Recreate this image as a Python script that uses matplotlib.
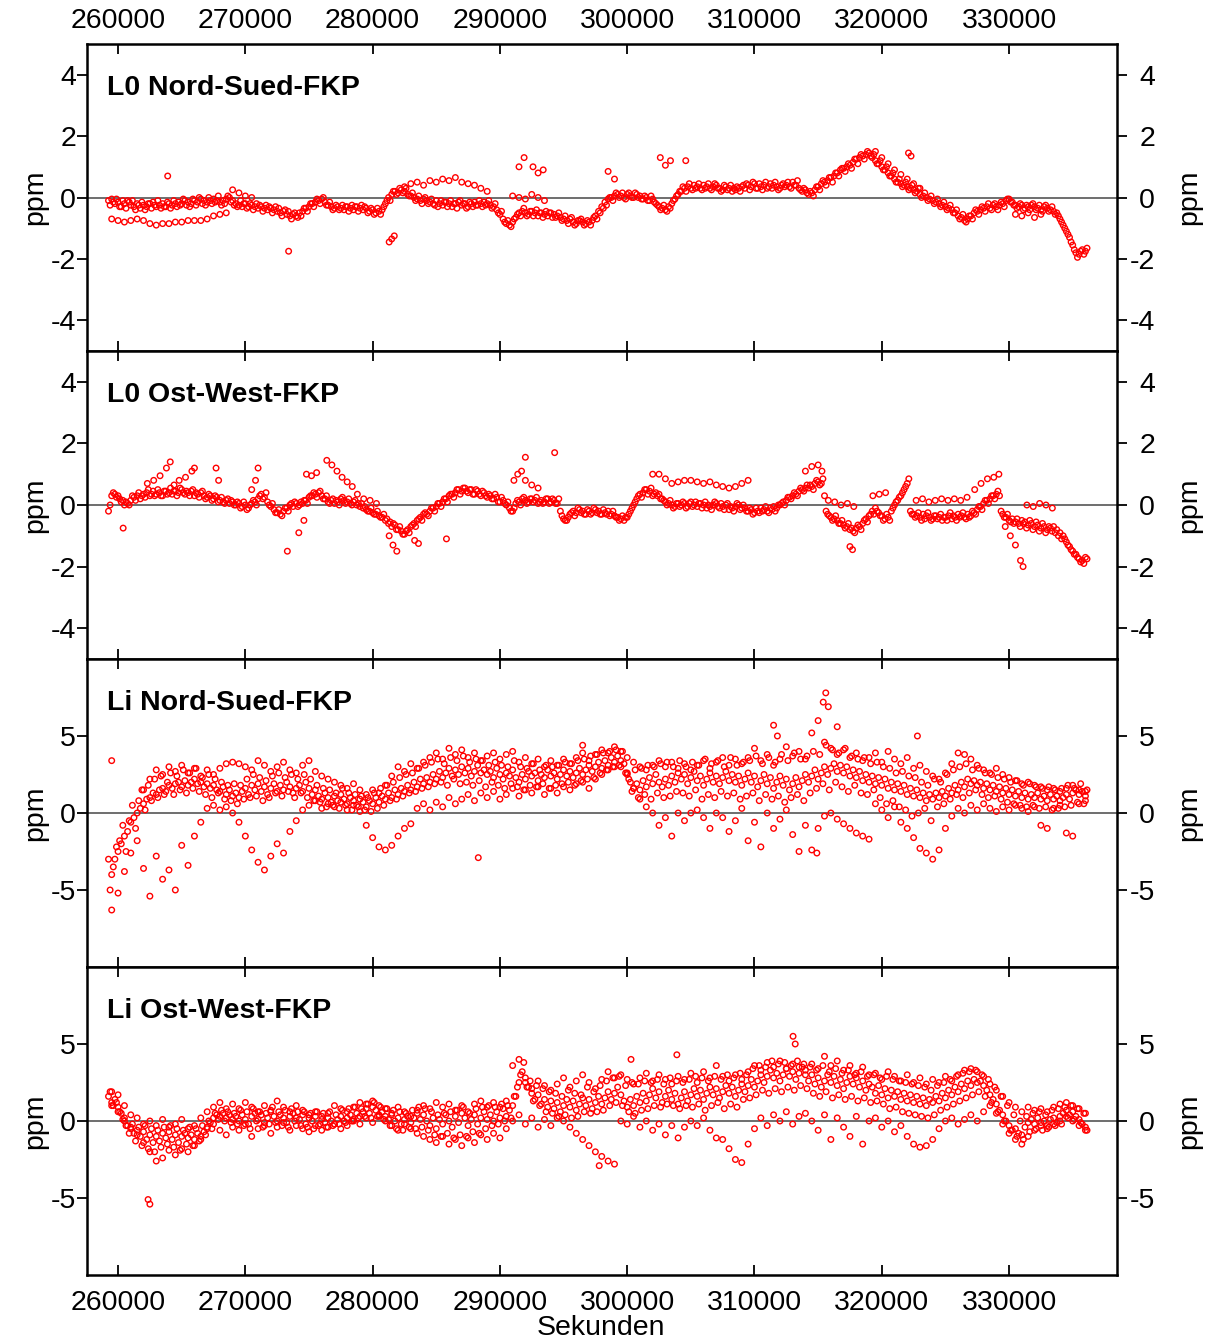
import numpy as np
import matplotlib
matplotlib.use("Agg")
import matplotlib.pyplot as plt
from matplotlib.transforms import ScaledTranslation

plt.rcParams['font.family'] = ['Liberation Sans', 'DejaVu Sans']
plt.rcParams['axes.unicode_minus'] = False

nan = np.nan

panel_names = ["L0 Nord-Sued-FKP", "L0 Ost-West-FKP", "Li Nord-Sued-FKP", "Li Ost-West-FKP"]
x_ticks = [260000, 270000, 280000, 290000, 300000, 310000, 320000, 330000]

# main tracks, one value every 250 s from 259250 s (each row = 5000 s)
l0ns_main = [
    -0.1, -0.05, -0.2, -0.15, -0.3, -0.2, -0.1, -0.25, -0.3, -0.2, -0.35, -0.25, -0.3, -0.2, -0.15, -0.3, -0.25, -0.2, -0.3, -0.2,
    -0.25, -0.2, -0.15, -0.2, -0.1, -0.15, -0.2, -0.1, -0.15, -0.05, -0.1, -0.15, -0.1, -0.05, -0.1, -0.15, -0.1, -0.05, 0.0, -0.1,
    -0.2, -0.25, -0.3, -0.2, -0.3, -0.25, -0.3, -0.35, -0.3, -0.35, -0.4, -0.35, -0.4, -0.45, -0.5, -0.45, -0.55, -0.6, -0.55, -0.6,
    -0.5, -0.45, -0.35, -0.3, -0.2, -0.15, -0.1, -0.05, -0.15, -0.25, -0.3, -0.35, -0.3, -0.35, -0.4, -0.3, -0.35, -0.4, -0.3, -0.35,
    -0.4, -0.35, -0.45, -0.4, -0.5, -0.45, -0.4, -0.2, 0.0, 0.1, 0.2, 0.15, 0.25, 0.2, 0.1, 0.05, 0.0, -0.05, -0.1, -0.05,
    -0.1, -0.15, -0.2, -0.1, -0.2, -0.25, -0.15, -0.2, -0.3, -0.2, -0.15, -0.25, -0.2, -0.3, -0.2, -0.15, -0.25, -0.2, -0.15, -0.2,
    -0.25, -0.3, -0.4, -0.55, -0.7, -0.85, -0.9, -0.8, -0.65, -0.5, -0.45, -0.5, -0.55, -0.45, -0.5, -0.6, -0.5, -0.55, -0.6, -0.5,
    -0.55, -0.6, -0.65, -0.7, -0.75, -0.7, -0.8, -0.85, -0.75, -0.8, -0.85, -0.8, -0.75, -0.6, -0.45, -0.3, -0.15, -0.05, 0.0, 0.05,
    0.1, 0.05, 0.0, 0.1, 0.05, 0.0, 0.1, 0.05, -0.05, 0.0, -0.1, -0.05, -0.2, -0.3, -0.35, -0.4, -0.3, -0.2, -0.05, 0.1,
    0.2, 0.3, 0.35, 0.3, 0.4, 0.35, 0.3, 0.4, 0.35, 0.3, 0.35, 0.4, 0.3, 0.25, 0.35, 0.3, 0.2, 0.25, 0.3, 0.35,
    0.3, 0.4, 0.35, 0.45, 0.3, 0.35, 0.4, 0.3, 0.45, 0.4, 0.35, 0.3, 0.45, 0.4, 0.35, 0.5, 0.4, 0.3, 0.2, 0.25,
    0.1, 0.15, 0.25, 0.35, 0.45, 0.5, 0.55, 0.65, 0.7, 0.8, 0.9, 0.95, 1.0, 1.05, 1.15, 1.25, 1.3, 1.35, 1.4, 1.45,
    1.3, 1.2, 1.1, 1.0, 0.9, 0.8, 0.7, 0.6, 0.5, 0.45, 0.4, 0.35, 0.3, 0.25, 0.2, 0.1, 0.05, 0.0, -0.05, -0.1,
    -0.15, -0.2, -0.25, -0.3, -0.35, -0.4, -0.5, -0.6, -0.65, -0.75, -0.7, -0.6, -0.5, -0.45, -0.4, -0.35, -0.3, -0.35, -0.25, -0.3,
    -0.25, -0.2, -0.1, -0.05, -0.15, -0.25, -0.3, -0.25, -0.35, -0.3, -0.25, -0.3, -0.35, -0.4, -0.3, -0.35, -0.4, -0.45, -0.5, -0.7,
    -0.9, -1.1, -1.3, -1.55, -1.8, -1.85, -1.7, -1.75,
]
# second dense track, every 250 s from 259375 s
l0ns_main2 = [
    -0.25, -0.15, -0.05, -0.3, -0.1, -0.35, -0.15, -0.1, -0.4, -0.25, -0.15, -0.4, -0.2, -0.35, -0.25, -0.1, -0.35, -0.3, -0.15, -0.35,
    -0.1, -0.3, -0.25, -0.05, -0.25, -0.3, -0.05, -0.25, 0.0, -0.2, -0.25, 0.0, -0.2, -0.15, 0.05, -0.25, -0.2, 0.05, -0.15, -0.25,
    -0.3, -0.1, -0.2, -0.35, -0.2, -0.4, -0.2, -0.25, -0.45, -0.25, -0.3, -0.5, -0.3, -0.35, -0.6, -0.4, -0.45, -0.7, -0.5, -0.65,
    -0.6, -0.35, -0.45, -0.2, -0.3, -0.05, -0.2, 0.0, -0.25, -0.15, -0.4, -0.25, -0.4, -0.25, -0.3, -0.45, -0.25, -0.3, -0.45, -0.25,
    -0.3, -0.5, -0.35, -0.55, -0.35, -0.55, -0.3, -0.1, -0.1, 0.2, 0.1, 0.3, 0.15, 0.3, 0.05, 0.15, -0.1, 0.05, -0.2, 0.0,
    -0.2, -0.05, -0.25, -0.3, -0.1, -0.15, -0.3, -0.1, -0.2, -0.35, -0.1, -0.2, -0.35, -0.15, -0.3, -0.25, -0.1, -0.3, -0.25, -0.1,
    -0.35, -0.2, -0.5, -0.45, -0.8, -0.75, -0.95, -0.7, -0.55, -0.6, -0.35, -0.6, -0.45, -0.6, -0.4, -0.5, -0.65, -0.45, -0.5, -0.65,
    -0.65, -0.5, -0.75, -0.6, -0.85, -0.65, -0.9, -0.75, -0.7, -0.9, -0.75, -0.9, -0.65, -0.7, -0.5, -0.35, -0.25, 0.0, -0.1, 0.15,
    0.0, 0.15, -0.05, 0.15, 0.0, 0.15, 0.0, -0.05, 0.05, -0.1, 0.05, -0.15, -0.25, -0.4, -0.25, -0.45, -0.35, -0.1, 0.05, 0.2,
    0.35, 0.2, 0.45, 0.25, 0.3, 0.45, 0.25, 0.3, 0.45, 0.25, 0.45, 0.3, 0.2, 0.4, 0.25, 0.4, 0.3, 0.35, 0.2, 0.4,
    0.45, 0.25, 0.5, 0.3, 0.45, 0.25, 0.5, 0.35, 0.3, 0.5, 0.25, 0.4, 0.35, 0.5, 0.3, 0.4, 0.55, 0.25, 0.3, 0.15,
    0.2, 0.05, 0.35, 0.25, 0.55, 0.4, 0.65, 0.5, 0.8, 0.7, 0.95, 0.85, 1.1, 0.95, 1.25, 1.1, 1.4, 1.25, 1.5, 1.35,
    1.4, 1.1, 1.2, 0.9, 1.0, 0.7, 0.8, 0.5, 0.6, 0.35, 0.5, 0.25, 0.4, 0.15, 0.3, 0.0, 0.15, -0.1, 0.05, -0.2,
    -0.05, -0.3, -0.15, -0.4, -0.25, -0.5, -0.4, -0.7, -0.55, -0.8, -0.6, -0.7, -0.4, -0.55, -0.3, -0.45, -0.2, -0.4, -0.2, -0.4,
    -0.15, -0.3, -0.05, -0.15, -0.25, -0.35, -0.2, -0.4, -0.25, -0.4, -0.2, -0.4, -0.25, -0.45, -0.25, -0.45, -0.3, -0.55, -0.6, -0.8,
    -1.0, -1.2, -1.45, -1.7, -1.95, -1.75, -1.85, -1.65,
]

l0ow_main = [
    -0.2, 0.3, 0.35, 0.3, 0.1, 0.0, 0.05, 0.15, 0.25, 0.3, 0.2, 0.35, 0.4, 0.3, 0.45, 0.35, 0.4, 0.3, 0.45, 0.4,
    0.35, 0.45, 0.4, 0.5, 0.35, 0.4, 0.45, 0.3, 0.35, 0.4, 0.3, 0.25, 0.3, 0.2, 0.25, 0.15, 0.1, 0.15, 0.05, 0.1,
    0.0, 0.05, -0.05, 0.0, -0.1, 0.05, 0.1, 0.2, 0.35, 0.25, 0.1, -0.05, -0.15, -0.25, -0.3, -0.2, -0.1, 0.0, -0.05, 0.05,
    0.0, 0.05, 0.15, 0.25, 0.3, 0.35, 0.4, 0.3, 0.2, 0.1, 0.15, 0.05, 0.1, 0.2, 0.15, 0.1, 0.05, 0.1, 0.0, -0.05,
    -0.1, -0.15, -0.2, -0.25, -0.3, -0.35, -0.4, -0.5, -0.6, -0.7, -0.65, -0.8, -0.85, -0.95, -0.8, -0.7, -0.6, -0.5, -0.4, -0.3,
    -0.3, -0.2, -0.1, -0.05, 0.05, 0.1, 0.2, 0.3, 0.35, 0.4, 0.5, 0.45, 0.55, 0.4, 0.5, 0.35, 0.45, 0.3, 0.4, 0.25,
    0.3, 0.2, 0.25, 0.1, 0.15, 0.0, -0.1, -0.2, 0.05, 0.1, 0.2, 0.15, 0.1, 0.2, 0.15, 0.05, 0.15, 0.1, 0.2, 0.1,
    0.15, 0.05, -0.2, -0.45, -0.5, -0.3, -0.2, -0.25, -0.15, -0.2, -0.3, -0.2, -0.25, -0.15, -0.2, -0.3, -0.25, -0.2, -0.3, -0.35,
    -0.4, -0.45, -0.5, -0.4, -0.2, 0.0, 0.2, 0.35, 0.4, 0.5, 0.45, 0.3, 0.4, 0.35, 0.2, 0.1, 0.05, 0.0, -0.05, 0.05,
    0.0, 0.05, -0.05, 0.1, 0.0, -0.05, 0.05, 0.0, -0.1, -0.05, 0.0, 0.05, -0.1, -0.05, 0.0, -0.15, -0.1, -0.05, 0.0, -0.1,
    -0.1, -0.2, -0.15, -0.25, -0.2, -0.1, -0.15, -0.2, -0.1, -0.05, -0.1, 0.0, 0.1, 0.15, 0.25, 0.3, 0.35, 0.45, 0.5, 0.55,
    0.55, 0.6, 0.7, 0.75, 0.7, 0.3, -0.3, -0.4, -0.45, -0.5, -0.6, -0.65, -0.7, -0.8, -0.85, -0.75, -0.7, -0.6, -0.45, -0.35,
    -0.2, -0.1, -0.25, -0.35, -0.45, -0.4, -0.2, 0.0, 0.15, 0.3, 0.5, 0.7, -0.2, -0.3, -0.35, -0.4, -0.3, -0.35, -0.4, -0.45,
    -0.35, -0.4, -0.5, -0.4, -0.35, -0.45, -0.4, -0.3, -0.35, -0.4, -0.3, -0.35, -0.25, -0.15, -0.05, 0.05, 0.15, 0.2, 0.3, 0.35,
    0.3, -0.3, -0.4, -0.5, -0.45, -0.55, -0.6, -0.5, -0.55, -0.65, -0.6, -0.7, -0.65, -0.75, -0.7, -0.8, -0.75, -0.7, -0.8, -0.9,
    -1.0, -1.2, -1.35, -1.5, -1.6, -1.75, -1.8, -1.7,
]
l0ow_main2 = [
    0.0, 0.4, 0.25, 0.2, 0.15, 0.1, 0.0, 0.3, 0.15, 0.4, 0.3, 0.25, 0.5, 0.35, 0.3, 0.5, 0.3, 0.45, 0.35, 0.55,
    0.45, 0.3, 0.55, 0.4, 0.45, 0.3, 0.5, 0.4, 0.25, 0.45, 0.2, 0.35, 0.15, 0.3, 0.1, 0.25, 0.05, 0.2, 0.15, 0.0,
    0.1, -0.1, 0.1, -0.15, 0.0, 0.15, 0.0, 0.3, 0.2, 0.4, 0.0, 0.05, -0.25, -0.15, -0.35, -0.1, -0.2, 0.05, 0.1, -0.05,
    0.1, 0.15, 0.05, 0.3, 0.4, 0.25, 0.45, 0.2, 0.3, 0.05, 0.2, 0.15, 0.0, 0.25, 0.05, 0.2, 0.0, 0.15, 0.05, 0.05,
    -0.05, -0.2, -0.1, -0.3, -0.2, -0.4, -0.3, -0.45, -0.55, -0.6, -0.8, -0.7, -0.95, -0.85, -0.9, -0.65, -0.7, -0.45, -0.5, -0.25,
    -0.35, -0.1, -0.2, 0.05, -0.05, 0.2, 0.1, 0.35, 0.25, 0.5, 0.35, 0.55, 0.45, 0.5, 0.35, 0.5, 0.35, 0.45, 0.3, 0.35,
    0.2, 0.35, 0.1, 0.25, 0.05, 0.1, -0.2, -0.1, 0.15, 0.0, 0.25, 0.05, 0.2, 0.1, 0.25, 0.1, 0.05, 0.2, 0.05, 0.2,
    0.05, 0.2, -0.35, -0.5, -0.4, -0.25, -0.35, -0.1, -0.25, -0.3, -0.15, -0.3, -0.1, -0.25, -0.3, -0.15, -0.3, -0.35, -0.2, -0.4,
    -0.5, -0.35, -0.4, -0.3, -0.1, 0.1, 0.3, 0.25, 0.5, 0.35, 0.55, 0.35, 0.3, 0.2, 0.15, 0.0, 0.15, -0.1, 0.05, -0.05,
    0.1, -0.1, 0.05, -0.05, 0.1, 0.05, -0.1, 0.1, 0.0, -0.15, 0.1, -0.05, 0.05, -0.15, 0.05, -0.05, -0.2, 0.05, -0.15, 0.0,
    -0.2, -0.1, -0.3, -0.1, -0.25, -0.2, -0.05, -0.25, -0.15, -0.2, 0.0, 0.05, 0.0, 0.25, 0.2, 0.4, 0.3, 0.55, 0.45, 0.65,
    0.65, 0.5, 0.8, 0.65, 0.85, -0.2, -0.35, -0.5, -0.35, -0.6, -0.5, -0.75, -0.6, -0.75, -0.9, -0.65, -0.8, -0.5, -0.55, -0.3,
    -0.3, -0.2, -0.35, -0.5, -0.3, -0.5, -0.1, 0.1, 0.25, 0.4, 0.6, 0.85, -0.3, -0.4, -0.25, -0.5, -0.45, -0.25, -0.5, -0.35,
    -0.45, -0.3, -0.4, -0.5, -0.25, -0.35, -0.5, -0.4, -0.25, -0.45, -0.4, -0.2, -0.3, -0.05, -0.15, 0.15, 0.05, 0.3, 0.2, 0.45,
    -0.2, -0.4, -0.3, -0.55, -0.6, -0.45, -0.7, -0.6, -0.75, -0.5, -0.8, -0.55, -0.85, -0.6, -0.9, -0.7, -0.85, -0.9, -1.0, -1.1,
    -1.1, -1.3, -1.45, -1.6, -1.7, -1.85, -1.9, -1.75,
]

lins_main = [
    -3.0, -4.0, -3.0, -2.5, -2.0, -1.5, -1.2, -0.6, -0.3, 0.0, 0.3, 0.6, 0.9, 1.0, 1.3, 1.2, 1.5, 1.6, 1.4, 1.8,
    1.6, 1.9, 2.0, 1.7, 2.1, 1.8, 2.0, 2.2, 1.9, 2.0, 1.7, 1.9, 1.6, 1.8, 1.5, 1.4, 1.7, 1.2, 1.5, 1.1,
    1.3, 1.0, 1.4, 1.6, 1.2, 1.8, 1.5, 1.9, 1.4, 1.7, 1.2, 1.6, 1.9, 1.4, 1.8, 1.5, 2.0, 1.7, 1.3, 1.6,
    1.8, 1.4, 2.0, 1.6, 1.2, 1.5, 1.1, 0.9, 1.3, 1.0, 0.7, 1.1, 0.8, 1.2, 0.9, 0.6, 1.0, 0.8, 0.5, 0.9,
    0.7, 0.4, 0.8, 0.6, 1.0, 0.7, 1.1, 0.9, 1.3, 1.0, 1.5, 1.2, 1.6, 1.4, 1.8, 1.5, 2.0, 1.7, 2.2, 1.9,
    2.3, 2.0, 2.5, 2.2, 2.7, 2.3, 2.6, 2.9, 2.4, 2.8, 2.5, 3.0, 2.6, 2.9, 2.4, 2.7, 3.1, 2.6, 2.8, 2.5,
    2.7, 2.3, 2.9, 2.5, 2.2, 2.6, 2.4, 2.8, 2.3, 2.0, 2.5, 2.2, 2.7, 2.4, 2.6, 2.1, 2.5, 2.3, 2.8, 2.4,
    2.6, 2.2, 2.5, 2.8, 2.4, 2.7, 2.3, 2.6, 2.9, 2.5, 2.8, 3.1, 2.7, 3.0, 3.3, 2.9, 3.4, 3.1, 3.6, 3.3,
    3.7, 3.4, 3.2, 2.6, 2.0, 1.6, 1.9, 1.5, 2.1, 1.7, 2.3, 1.9, 2.5, 2.0, 1.7, 2.2, 1.8, 2.4, 2.0, 2.6,
    2.2, 2.5, 1.9, 2.3, 2.7, 2.1, 2.4, 1.8, 2.2, 2.6, 2.0, 2.4, 1.9, 2.3, 2.7, 2.1, 2.5, 2.0, 2.4, 1.8,
    2.2, 2.6, 2.0, 2.4, 1.7, 2.1, 2.5, 1.9, 2.3, 1.6, 2.0, 2.4, 1.8, 2.2, 1.5, 1.9, 2.3, 1.7, 2.1, 2.5,
    2.0, 2.4, 2.8, 2.2, 2.6, 3.0, 2.5, 2.9, 3.2, 2.7, 3.1, 2.6, 3.0, 2.4, 2.8, 2.3, 2.7, 2.1, 2.5, 2.0,
    2.4, 1.9, 2.3, 1.8, 2.2, 1.6, 2.0, 1.5, 1.9, 1.4, 1.8, 1.2, 1.6, 1.1, 1.5, 1.0, 1.3, 0.8, 1.2, 0.9,
    1.3, 1.0, 1.4, 1.1, 1.6, 1.3, 1.8, 1.5, 2.0, 1.7, 2.2, 1.9, 2.1, 1.8, 2.0, 1.6, 1.9, 1.5, 1.8, 1.4,
    1.7, 1.3, 1.6, 1.2, 1.5, 1.1, 1.4, 1.0, 1.3, 0.9, 1.2, 1.0, 1.3, 0.9, 1.1, 0.8, 1.2, 0.9, 1.1, 0.8,
    1.0, 1.2, 0.9, 1.3, 1.5, 1.2, 1.4, 1.1,
]
lins_main2 = [
    -5.0, -3.5, -2.2, -1.8, -0.8, -2.5, -0.5, 0.5, -1.0, 0.8, 1.5, 0.2, 1.8, 0.8, 2.2, 1.0, 2.4, 1.2, 2.0, 2.6,
    1.2, 2.4, 1.5, 2.8, 1.3, 2.6, 1.6, 2.9, 1.4, 2.3, 1.2, 2.5, 1.0, 2.2, 1.3, 2.0, 0.9, 1.8, 0.8, 1.9,
    0.6, 1.8, 0.9, 2.2, 1.0, 2.5, 1.1, 2.3, 0.8, 2.1, 1.0, 2.4, 1.3, 2.6, 1.1, 2.3, 1.4, 2.5, 1.0, 2.2,
    1.3, 2.5, 1.0, 2.2, 0.8, 1.8, 0.7, 1.6, 0.4, 1.5, 0.5, 1.3, 0.3, 1.6, 0.5, 1.3, 0.2, 1.2, 0.4, 1.1,
    0.2, 1.0, 0.1, 1.3, 0.3, 1.6, 0.5, 1.8, 0.8, 2.0, 0.9, 2.3, 1.1, 2.5, 1.3, 2.6, 1.4, 2.9, 1.6, 3.1,
    1.7, 3.3, 1.9, 3.5, 2.0, 3.2, 1.8, 3.6, 2.2, 3.4, 1.9, 3.7, 2.0, 3.3, 1.8, 3.5, 2.1, 3.4, 1.7, 3.1,
    2.0, 3.3, 1.8, 3.1, 1.6, 3.0, 1.9, 3.4, 1.7, 3.0, 1.5, 2.9, 1.8, 3.2, 1.7, 2.8, 1.9, 3.1, 1.6, 3.0,
    1.8, 3.1, 1.9, 3.3, 2.0, 3.2, 1.8, 3.4, 2.1, 3.5, 2.2, 3.7, 2.3, 3.8, 2.6, 3.9, 2.8, 4.0, 3.0, 4.1,
    3.1, 4.0, 2.6, 2.2, 1.4, 2.8, 1.0, 2.9, 1.2, 3.1, 0.9, 3.0, 1.3, 3.2, 1.0, 3.3, 1.1, 3.0, 1.4, 3.4,
    1.3, 3.0, 1.1, 3.3, 1.5, 3.1, 0.9, 3.5, 1.2, 3.2, 1.0, 3.4, 1.4, 3.0, 1.1, 3.6, 1.3, 3.1, 0.9, 3.3,
    1.1, 3.4, 1.3, 3.7, 0.8, 3.2, 1.2, 3.6, 0.9, 3.3, 1.1, 3.8, 0.7, 3.4, 1.0, 3.9, 1.2, 3.5, 0.8, 3.7,
    1.3, 4.0, 1.6, 3.8, 1.9, 4.4, 1.5, 4.1, 2.0, 3.9, 1.7, 4.2, 1.4, 3.7, 1.8, 3.5, 1.3, 3.6, 1.2, 3.2,
    1.5, 3.3, 1.0, 3.0, 0.6, 2.9, 0.8, 2.6, 0.4, 2.7, 0.2, 2.4, -0.2, 2.3, 0.0, 2.0, 0.3, 1.8, -0.5, 2.2,
    0.4, 2.0, 0.6, 2.5, 0.9, 2.8, 1.2, 3.0, 1.0, 3.2, 1.3, 2.8, 1.5, 2.9, 1.2, 2.6, 1.0, 2.5, 1.1, 2.3,
    0.9, 2.2, 0.7, 2.0, 0.6, 2.1, 0.5, 1.8, 0.4, 1.9, 0.5, 1.7, 0.3, 1.6, 0.4, 1.7, 0.2, 1.5, 0.3, 1.6,
    0.4, 1.8, 0.5, 1.6, 0.7, 1.9, 0.6, 1.5,
]

liow_main = [
    1.6, 1.2, 1.4, 0.9, 0.5, 0.2, -0.3, -0.5, -0.8, -0.6, -1.0, -0.7, -1.2, -0.9, -1.4, -1.0, -1.3, -0.8, -1.1, -0.7,
    -1.2, -0.9, -1.4, -1.0, -0.8, -1.1, -0.9, -1.2, -0.8, -1.0, -0.7, -0.4, -0.1, 0.2, 0.4, 0.3, 0.5, 0.2, 0.4, 0.1,
    0.3, 0.0, 0.4, 0.1, -0.2, 0.3, 0.5, 0.1, 0.4, -0.1, 0.2, 0.6, 0.3, 0.0, 0.4, 0.2, -0.1, 0.3, 0.5, 0.2,
    0.1, 0.4, -0.2, 0.2, 0.0, 0.3, -0.3, 0.1, -0.1, 0.2, 0.0, -0.2, 0.1, 0.3, 0.0, 0.2, 0.4, 0.1, 0.5, 0.3,
    0.6, 0.8, 0.5, 0.9, 0.7, 0.4, 0.6, 0.3, 0.1, 0.4, 0.0, 0.2, -0.2, 0.1, 0.3, -0.1, 0.2, 0.5, 0.1, 0.4,
    0.0, -0.3, 0.2, -0.5, 0.1, -0.2, 0.4, 0.0, -0.4, 0.3, -0.1, 0.5, 0.2, -0.3, 0.1, 0.4, -0.2, 0.2, 0.6, 0.1,
    0.4, 0.0, 0.6, 0.2, 0.8, 0.3, 0.7, 1.0, 1.6, 2.5, 3.2, 2.8, 2.2, 1.8, 1.4, 1.7, 1.1, 1.4, 0.9, 1.3,
    0.8, 1.2, 0.6, 1.0, 1.4, 0.9, 1.3, 0.7, 1.1, 1.5, 1.0, 1.4, 0.8, 1.2, 1.6, 1.1, 1.5, 1.9, 1.4, 1.8,
    2.2, 1.7, 1.3, 0.9, 1.4, 1.0, 1.6, 1.2, 1.8, 1.3, 1.7, 2.1, 1.5, 1.9, 1.2, 1.6, 2.0, 1.4, 1.8, 1.1,
    1.5, 1.9, 1.3, 1.7, 2.1, 1.6, 2.0, 1.4, 1.8, 2.2, 1.7, 2.1, 1.5, 1.9, 2.3, 1.8, 2.2, 1.6, 2.0, 2.4,
    1.9, 2.3, 2.7, 2.2, 2.6, 3.0, 2.5, 2.9, 3.3, 2.8, 3.1, 2.6, 3.0, 3.4, 2.9, 3.2, 2.7, 3.1, 3.5, 3.0,
    2.6, 3.0, 2.4, 2.8, 2.2, 2.6, 3.0, 2.5, 2.9, 2.3, 2.7, 2.1, 2.5, 2.9, 2.4, 2.8, 2.2, 2.6, 2.0, 2.4,
    2.2, 1.8, 2.3, 1.7, 2.1, 1.5, 2.0, 1.6, 1.9, 1.4, 1.8, 1.3, 1.7, 1.2, 1.6, 1.1, 1.5, 1.0, 1.4, 1.2,
    1.6, 1.3, 1.8, 1.5, 2.0, 1.7, 2.2, 1.9, 2.4, 2.1, 2.6, 2.3, 2.7, 2.5, 2.6, 2.3, 2.0, 1.7, 1.4, 1.1,
    0.7, 0.4, 0.0, -0.3, -0.6, -0.5, -0.8, -0.9, -0.4, -0.1, 0.1, -0.2, 0.2, -0.1, 0.0, -0.3, 0.1, 0.2, -0.1, 0.3,
    0.5, 0.7, 0.4, 0.6, 0.3, 0.1, -0.2, -0.4,
]
liow_main2 = [
    1.9, 1.0, 1.2, 0.6, 0.1, -0.3, -0.8, -0.2, -1.3, -0.4, -1.6, -0.3, -1.8, -0.5, -2.0, -0.6, -1.7, -0.4, -1.5, -0.3,
    -1.7, -0.5, -1.9, -0.6, -1.5, -0.4, -1.6, -0.5, -1.3, -0.3, -0.9, 0.0, -0.5, 0.5, 0.1, 0.7, 0.0, 0.6, -0.1, 0.5,
    -0.2, 0.7, -0.3, 0.6, -0.5, 0.8, 0.0, 0.6, -0.4, 0.5, -0.2, 0.9, -0.1, 0.6, -0.3, 0.7, -0.4, 0.8, 0.0, 0.6,
    -0.3, 0.6, -0.4, 0.5, -0.5, 0.6, -0.2, 0.5, -0.4, 0.6, -0.3, 0.4, -0.2, 0.7, -0.1, 0.8, 0.0, 0.9, 0.2, 0.8,
    0.3, 1.1, 0.2, 1.2, 0.3, 0.9, 0.1, 0.8, -0.3, 0.7, -0.5, 0.6, -0.6, 0.5, -0.4, 0.7, -0.5, 0.9, -0.4, 0.8,
    -0.6, 0.6, -0.9, 0.4, -1.0, 0.5, -0.8, 0.6, -1.1, 0.7, -0.9, 0.9, -1.0, 0.5, -0.7, 0.8, -0.8, 0.9, -0.5, 1.0,
    -0.3, 0.9, -0.2, 1.1, 0.0, 1.0, 0.2, 1.6, 2.2, 3.0, 3.8, 2.2, 2.6, 1.3, 2.3, 1.0, 2.1, 0.6, 1.9, 0.5,
    1.8, 0.3, 1.6, 0.4, 2.0, 0.2, 1.8, 0.3, 1.7, 0.6, 2.2, 0.5, 1.9, 0.6, 2.3, 0.7, 2.6, 1.0, 2.8, 1.2,
    2.9, 1.0, 2.3, 0.6, 2.5, 0.5, 2.4, 0.7, 2.6, 0.8, 2.5, 1.0, 2.7, 0.9, 2.4, 1.1, 2.8, 1.0, 2.6, 0.8,
    2.5, 1.0, 2.7, 0.9, 2.9, 1.1, 2.8, 0.7, 2.6, 1.0, 2.9, 1.2, 2.7, 0.8, 3.0, 1.1, 2.8, 0.9, 3.1, 1.4,
    3.0, 1.5, 3.4, 1.7, 3.6, 2.0, 3.5, 1.8, 3.9, 2.1, 3.7, 1.9, 3.8, 2.2, 3.6, 2.0, 3.9, 2.3, 3.7, 2.1,
    3.5, 1.8, 3.3, 1.6, 3.6, 1.9, 3.2, 1.5, 3.4, 1.7, 3.1, 1.4, 3.3, 1.6, 3.0, 1.3, 3.2, 1.5, 2.9, 1.2,
    3.0, 1.3, 2.8, 1.1, 2.9, 0.8, 2.7, 0.9, 2.6, 0.6, 2.5, 0.5, 2.4, 0.4, 2.3, 0.3, 2.2, 0.2, 2.0, 0.4,
    2.3, 0.7, 2.5, 0.9, 2.7, 1.1, 2.9, 1.3, 3.1, 1.5, 3.2, 1.7, 3.3, 1.9, 3.0, 1.6, 2.7, 1.2, 2.2, 0.6,
    1.6, 0.0, 1.0, -0.6, 0.4, -1.0, 0.0, -1.2, 0.3, -0.7, 0.5, -0.5, 0.6, -0.6, 0.4, -0.4, 0.7, -0.3, 0.8, -0.2,
    0.9, 0.2, 1.0, 0.1, 0.8, -0.1, 0.5, -0.6,
]

# Li panels: upper and lower tracks, one value every 500 s from 259500 s (each row = 5000 s)
lins_upper = [
    3.4, nan, nan, nan, nan, 1.5, 2.2, 2.8, 2.5, 3.0,
    2.7, 3.1, 2.6, 2.9, 2.4, 2.8, 2.5, 2.9, 3.2, 3.3,
    3.2, 3.0, 2.8, 3.4, 3.1, 2.7, 3.0, 3.3, 2.8, 2.6,
    3.1, 3.4, 2.7, 2.4, 2.2, 2.0, 1.8, 1.6, 1.9, 1.5,
    1.2, 1.5, 1.3, 1.8, 2.4, 3.0, 2.7, 3.2, 2.9, 3.3,
    3.6, 3.9, 3.5, 4.2, 3.8, 4.1, 3.6, 3.9, 3.4, 3.7,
    3.9, 3.5, 3.8, 4.0, 3.3, 3.6, 3.2, 3.5, 3.0, 3.4,
    3.1, 3.5, 3.2, 3.6, 3.9, 3.4, 3.8, 4.1, 3.9, 4.3,
    4.0, 3.6, 3.3, 3.0, 2.8, 3.1, 3.4, 3.0, 3.3, 2.9,
    3.2, 2.8, 3.1, 3.4, 2.9, 3.3, 3.6, 3.1, 3.5, 3.2,
    3.6, 4.2, 3.4, 3.8, 3.1, 3.5, 4.3, 3.7, 4.0, 3.5,
    5.2, 6.0, 4.6, 4.2, 3.8, 4.1, 3.6, 3.9, 3.4, 3.6,
    3.9, 3.3, 4.0, 3.5, 3.2, 3.6, 2.9, 3.1, 2.7, 2.4,
    2.2, 2.6, 3.2, 3.9, 3.8, 3.5, 3.1, 2.8, 2.6, 2.9,
    2.5, 2.3, 2.1, 1.9, 2.0, 1.8, 1.7, 1.5, 1.6, 1.4,
    1.6, 1.8, 1.5, 1.4,
]
lins_lower = [
    -6.3, -5.2, -3.8, -2.6, -1.8, -3.6, -5.4, -2.8, -4.3, -3.7,
    -5.0, -2.1, -3.4, -1.5, -0.6, 0.3, 0.5, 0.2, 0.4, 0.0,
    -0.6, -1.5, -2.4, -3.2, -3.7, -2.8, -2.0, -2.6, -1.2, -0.5,
    0.2, 0.5, 0.8, 0.3, 0.6, 0.4, 0.7, 0.2, 0.5, 0.1,
    -0.8, -1.6, -2.2, -2.4, -2.1, -1.5, -1.0, -0.7, 0.3, 0.6,
    0.2, 0.7, 0.4, 1.0, 0.6, 0.9, 1.2, 0.8, 1.3, 1.0,
    1.4, 0.9, 1.2, 1.6, 1.1, 1.5, 1.3, 1.7, 1.2, 1.6,
    1.3, 1.7, 1.5, 1.9, 2.0, 1.6, 2.2, 2.5, 2.8, 3.0,
    3.0, 2.5, 1.6, 0.9, 0.4, 0.0, -0.8, -0.3, -1.5, 0.0,
    -0.5, 0.0, 0.2, -0.3, -1.0, 0.0, -0.3, -1.2, -0.5, 0.3,
    -1.8, -0.6, -2.2, 0.0, -1.0, -0.4, 0.2, -1.4, -2.5, -0.8,
    -2.4, -1.0, -0.2, 0.0, -0.4, -0.7, -1.0, -1.3, -1.5, -1.7,
    0.6, 0.2, -0.3, 0.4, -0.6, -1.0, -1.6, -2.3, -2.6, -3.0,
    -2.4, -1.0, -0.2, 0.3, 0.0, 0.5, 0.2, 0.6, 0.3, 0.1,
    0.4, 0.2, 0.5, 0.3, 0.1, 0.4, -0.8, -1.0, 0.3, 0.5,
    -1.3, -1.5, 0.6, 0.8,
]
liow_upper = [
    1.9, 1.7, 1.0, 0.4, 0.2, -0.2, 0.0, -0.3, 0.1, -0.4,
    -0.2, 0.1, -0.5, -0.3, 0.2, 0.6, 0.9, 1.2, 0.8, 1.1,
    0.8, 1.2, 0.9, 0.6, 1.0, 0.7, 1.3, 0.9, 0.6, 1.0,
    0.7, 0.4, 0.6, 0.3, 0.5, 1.0, 0.8, 0.6, 0.9, 1.2,
    1.1, 1.3, 1.0, 0.8, 0.5, 0.9, 0.6, 0.3, 0.7, 1.0,
    0.8, 1.2, 0.9, 1.1, 0.7, 1.0, 0.6, 1.1, 1.3, 0.9,
    1.2, 0.9, 1.3, 3.6, 4.0, 2.5, 2.1, 2.6, 2.3, 2.0,
    2.4, 2.8, 2.2, 2.6, 3.0, 2.5, 2.1, 2.7, 3.2, 2.8,
    3.0, 2.7, 2.4, 2.8, 3.1, 2.6, 3.0, 2.7, 2.4, 2.9,
    2.7, 3.1, 2.5, 3.2, 2.8, 3.6, 2.9, 2.6, 3.0, 2.7,
    3.2, 3.6, 3.3, 3.8, 3.5, 3.9, 3.4, 3.7, 3.5, 3.3,
    3.7, 3.4, 4.2, 3.6, 3.9, 3.3, 3.6, 3.1, 3.5, 3.0,
    3.1, 2.7, 3.2, 2.9, 2.6, 3.0, 2.5, 2.8, 2.4, 2.7,
    2.5, 2.9, 2.6, 3.0, 3.3, 3.4, 3.2, 2.9, 2.4, 2.0,
    1.6, 1.2, 0.9, 0.6, 0.9, 0.7, 0.8, 0.6, 0.9, 1.1,
    1.2, 1.0, 0.8, 0.5,
]
liow_lower = [
    1.0, 0.6, 0.0, -0.4, -0.9, -1.4, -2.0, -2.6, -2.4, -1.9,
    -2.2, -1.8, -2.0, -1.6, -1.2, -0.5, -0.2, -0.6, -0.9, -0.4,
    -0.6, -0.2, -1.0, -0.5, -0.3, -0.8, -0.4, -0.1, -0.6, -0.3,
    -0.5, -0.7, -0.3, -0.6, -0.4, -0.2, -0.5, -0.3, 0.0, -0.2,
    0.2, -0.1, 0.3, 0.0, -0.3, -0.6, -0.2, -0.5, -0.8, -1.0,
    -1.2, -1.4, -1.0, -1.5, -1.2, -1.6, -1.1, -1.4, -0.9, -1.2,
    -0.8, -1.1, -0.5, 0.0, 0.4, -0.2, 0.2, -0.4, 0.1, -0.3,
    0.2, 0.0, -0.4, -0.8, -1.2, -1.6, -2.0, -2.3, -2.6, -2.8,
    0.0, -0.2, 0.3, -0.4, 0.0, -0.6, -0.2, -0.9, -0.3, -1.1,
    -0.4, 0.0, -0.3, 0.2, -0.6, -1.1, -1.2, -1.8, -2.5, -2.7,
    -1.5, -0.5, 0.2, -0.3, 0.4, 0.0, 0.6, -0.2, 0.3, 0.5,
    0.0, -0.6, 0.4, -1.2, 0.2, -0.4, -1.0, 0.3, -1.5, 0.0,
    0.2, -0.4, 0.0, -0.7, -0.3, -1.0, -1.5, -1.7, -1.6, -1.2,
    -0.5, 0.0, 0.2, -0.2, 0.1, 0.4, 0.0, 0.6, 1.0, 0.5,
    -0.2, -0.8, -1.2, -1.5, -1.0, -0.6, -0.3, -0.5, -0.2, 0.0,
    0.3, 0.0, -0.3, -0.6,
]

# L0 panels: side tracks at irregular times
l0ns_side_t = [259500, 260000, 260500, 261000, 261500, 262000, 262500, 263000, 263500, 264000,
               264500, 265000, 265500, 266000, 266500, 267000, 267500, 268000, 268500,
               269000, 269500, 270000, 270500,
               282500, 283000, 283500, 284000, 284500, 285000, 285500, 286000, 286500, 287000,
               287500, 288000, 288500, 289000,
               291000, 291500, 292000, 292500, 293000, 293500,
               319500, 320000, 320500, 321000, 321500, 322000, 322500, 323000,
               330500, 331000, 331500, 332000, 332500]
l0ns_side_v = [-0.7, -0.75, -0.8, -0.75, -0.7, -0.75, -0.85, -0.9, -0.85, -0.85,
               -0.8, -0.8, -0.75, -0.75, -0.75, -0.7, -0.6, -0.55, -0.5,
               0.25, 0.15, 0.05, 0.0,
               0.35, 0.45, 0.5, 0.4, 0.55, 0.5, 0.6, 0.55, 0.65, 0.5,
               0.45, 0.4, 0.3, 0.2,
               0.05, 0.0, -0.05, 0.1, 0.0, -0.1,
               1.5, 1.3, 1.1, 0.9, 0.75, 0.6, 0.45, 0.3,
               -0.55, -0.6, -0.5, -0.65, -0.55]
l0ns_out_t = [263900, 273400, 281300, 281500, 281700, 291500, 291900, 292600, 293000, 293400,
              298500, 299000, 302600, 303000, 303400, 304600, 322100, 322300]
l0ns_out_v = [0.7, -1.75, -1.45, -1.35, -1.25, 1.0, 1.3, 1.0, 0.8, 0.9,
              0.85, 0.6, 1.3, 1.05, 1.2, 1.2, 1.45, 1.35]

l0ow_side_t = [262300, 262800, 263300, 263800, 264100, 264400, 264800, 265300, 265800, 266000,
               267700, 267900, 270500, 270800, 271000, 274800, 275200, 275600,
               276400, 276800, 277200, 277600, 278000, 278400, 278800, 279300, 279800, 280300,
               291100, 291400, 291700, 292000, 292500, 293000,
               302000, 302500, 303000, 303500, 304000, 304500, 305000, 305500, 306000, 306500,
               307000, 307500, 308000, 308500, 309000, 309500,
               314000, 314500, 315000, 315300, 315800, 316300, 316800, 317300, 317800,
               319300, 319800, 320300,
               322700, 323200, 323700, 324200, 324700, 325200, 325700, 326200, 326700,
               327300, 327800, 328300, 328800, 329200,
               331400, 331900, 332400, 332900, 333400]
l0ow_side_v = [0.7, 0.8, 0.95, 1.2, 1.4, 0.65, 0.8, 0.9, 1.1, 1.2,
               1.2, 0.8, 0.5, 0.8, 1.2, 1.0, 0.95, 1.05,
               1.45, 1.3, 1.1, 0.9, 0.75, 0.6, 0.35, 0.2, 0.15, 0.05,
               0.8, 1.0, 1.1, 0.8, 0.65, 0.55,
               1.0, 1.0, 0.85, 0.7, 0.75, 0.8, 0.8, 0.75, 0.7, 0.75,
               0.65, 0.6, 0.55, 0.6, 0.7, 0.8,
               1.1, 1.25, 1.3, 1.1, 0.15, 0.1, 0.0, 0.05, -0.05,
               0.3, 0.35, 0.4,
               0.15, 0.2, 0.1, 0.15, 0.2, 0.15, 0.2, 0.15, 0.25,
               0.5, 0.7, 0.85, 0.9, 1.0,
               0.0, -0.05, 0.05, 0.0, -0.1]
l0ow_out_t = [260400, 273300, 274200, 274600, 281300, 281600, 281900, 283300, 283600, 285800,
              292000, 294300, 317500, 317700, 329700, 330100, 330500, 330900, 331100]
l0ow_out_v = [-0.75, -1.5, -0.9, -0.5, -1.0, -1.3, -1.5, -1.15, -1.25, -1.1,
              1.55, 1.7, -1.35, -1.45, -0.7, -1.0, -1.3, -1.8, -2.0]

lins_out_t = [315400, 315600, 315800, 311500, 311800, 316500, 288300, 296500, 314900, 322800]
lins_out_v = [7.2, 7.8, 6.9, 5.7, 5.0, 5.6, -2.9, 4.4, -2.6, 5.0]
liow_out_t = [262360, 262500, 313030, 313200, 297800, 300300, 303900]
liow_out_v = [-5.1, -5.4, 5.5, 5.0, -2.9, 4.0, 4.3]


def main_times(vals, start=259250):
    return start + 250 * np.arange(len(vals))


def side_times(vals):
    return 259500 + 500 * np.arange(len(vals))


panel_points = [
    [(main_times(l0ns_main), l0ns_main), (main_times(l0ns_main2, 259375), l0ns_main2),
     (l0ns_side_t, l0ns_side_v), (l0ns_out_t, l0ns_out_v)],
    [(main_times(l0ow_main), l0ow_main), (main_times(l0ow_main2, 259375), l0ow_main2),
     (l0ow_side_t, l0ow_side_v), (l0ow_out_t, l0ow_out_v)],
    [(main_times(lins_main), lins_main), (main_times(lins_main2, 259375), lins_main2),
     (side_times(lins_upper), lins_upper), (side_times(lins_lower), lins_lower),
     (lins_out_t, lins_out_v)],
    [(main_times(liow_main), liow_main), (main_times(liow_main2, 259375), liow_main2),
     (side_times(liow_upper), liow_upper), (side_times(liow_lower), liow_lower),
     (liow_out_t, liow_out_v)],
]
y_limits = [(-5, 5), (-5, 5), (-10, 10), (-10, 10)]
y_ticks = [[-4, -2, 0, 2, 4], [-4, -2, 0, 2, 4], [-5, 0, 5], [-5, 0, 5]]

W, H = 1208, 1342
left_px, right_px = 87, 1117
edges = [44, 351, 659, 967, 1275]
fs = 20.5

fig = plt.figure(figsize=(W / 100, H / 100), dpi=100)

for i in range(4):
    top, bot = edges[i], edges[i + 1]
    ax = fig.add_axes([left_px / W, 1 - bot / H, (right_px - left_px) / W, (bot - top) / H])
    ax.axhline(0, color='#555555', lw=1.2, zorder=1)
    for t, v in panel_points[i]:
        ax.scatter(t, v, s=16, facecolors='none', edgecolors='#ff0000', linewidths=1.0, zorder=2)

    ax.set_xlim(257560, 338480)
    ax.set_ylim(*y_limits[i])
    ax.set_xticks(x_ticks)
    ax.set_xticklabels([str(x) for x in x_ticks])
    ax.set_yticks(y_ticks[i])
    ax.set_yticklabels([str(y) for y in y_ticks[i]])

    ax.tick_params(axis='x', direction='in', top=True, bottom=True, length=7, width=1.3,
                   labelsize=fs, pad=8.5, labeltop=(i == 0), labelbottom=(i == 3))
    ax.tick_params(axis='y', direction='out', left=True, right=True, labelleft=True,
                   labelright=True, length=7, width=1.3, labelsize=fs, pad=1)
    for sp in ax.spines.values():
        sp.set_linewidth(1.8)

    # right-hand labels are right-aligned in the reference, ending ~37 px past the axis
    for tk in ax.yaxis.get_major_ticks():
        tk.label2.set_horizontalalignment('right')
        tk.label2.set_transform(tk.label2.get_transform()
                                + ScaledTranslation(0.27, 0, fig.dpi_scale_trans))
    # nudge the x tick labels down a little
    for tk in ax.xaxis.get_major_ticks():
        tk.label1.set_transform(tk.label1.get_transform()
                                + ScaledTranslation(0, -0.03, fig.dpi_scale_trans))
        tk.label2.set_transform(tk.label2.get_transform()
                                + ScaledTranslation(0, -0.02, fig.dpi_scale_trans))

    ax.text(0.019, 0.898, panel_names[i], transform=ax.transAxes, fontsize=fs,
            fontweight='bold', va='top', ha='left')
    ax.text(-0.0505, 0.5, 'ppm', transform=ax.transAxes, fontsize=fs, rotation=90,
            ha='center', va='center')
    ax.text(1.070, 0.5, 'ppm', transform=ax.transAxes, fontsize=fs, rotation=90,
            ha='center', va='center')

fig.text(601 / W, 1 - 1328 / H, 'Sekunden', fontsize=fs, ha='center', va='center')

fig.savefig('out.png', dpi=100)
